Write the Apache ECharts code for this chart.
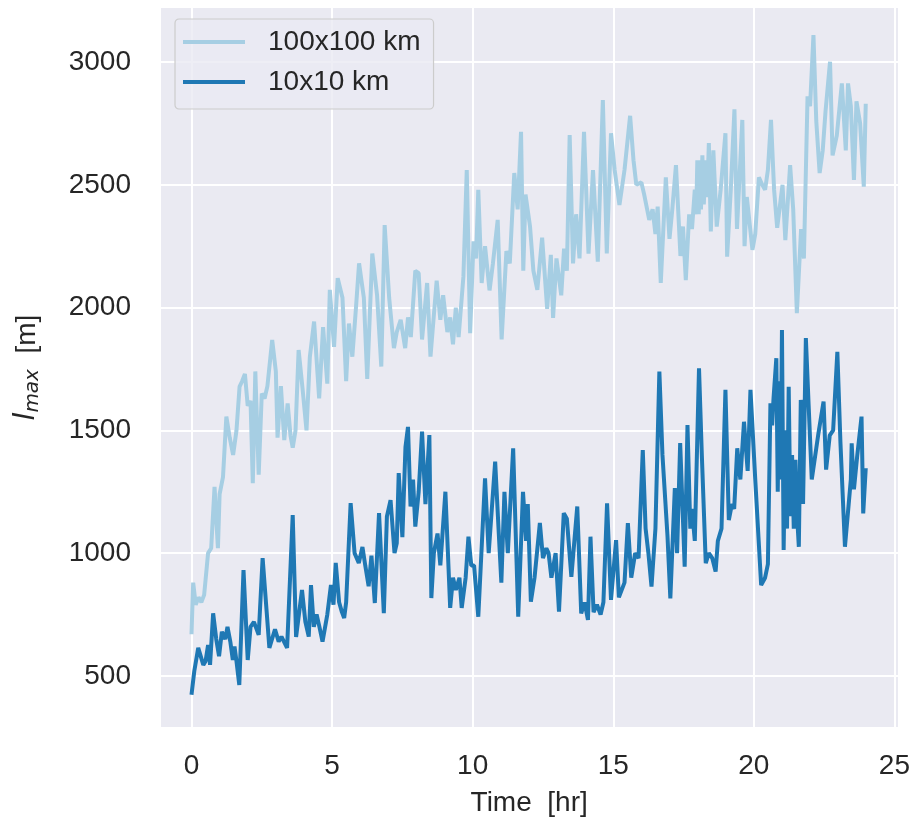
<!DOCTYPE html>
<html>
<head>
<meta charset="utf-8">
<script src="https://cdn.jsdelivr.net/npm/echarts@6/dist/echarts.min.js"></script>
<style>
  html, body { margin: 0; padding: 0; background: #ffffff; }
  #chart { width: 913px; height: 822px; }
</style>
</head>
<body>
<div id="chart"></div>
<script>
// Maximum length scale over a 24 h run, two domain sizes.
const seriesNames = ['100x100 km', '10x10 km'];

// 100x100 km domain: time [hr] and l_max [m]
const largeTime = [
  0.00, 0.06, 0.15, 0.25, 0.35, 0.45, 0.59, 0.70,
  0.82, 0.94, 1.00, 1.12, 1.24, 1.36, 1.48, 1.60,
  1.71, 1.80, 1.90, 2.00, 2.10, 2.18, 2.27, 2.39,
  2.50, 2.60, 2.70, 2.87, 3.00, 3.06, 3.18, 3.30,
  3.42, 3.52, 3.60, 3.70, 3.81, 3.95, 4.09, 4.21,
  4.36, 4.54, 4.68, 4.83, 4.92, 5.07, 5.20, 5.37,
  5.50, 5.60, 5.72, 5.85, 5.96, 6.13, 6.25, 6.43,
  6.60, 6.75, 6.87, 7.03, 7.20, 7.30, 7.44, 7.60,
  7.70, 7.80, 7.96, 8.08, 8.20, 8.38, 8.50, 8.72,
  8.85, 8.95, 9.10, 9.20, 9.30, 9.40, 9.50, 9.67,
  9.79, 9.91, 10.03, 10.12, 10.20, 10.32, 10.44, 10.60,
  10.72, 10.89, 11.03, 11.20, 11.32, 11.48, 11.60, 11.72,
  11.80, 11.88, 12.04, 12.16, 12.30, 12.47, 12.65, 12.78,
  12.86, 12.98, 13.15, 13.25, 13.35, 13.45, 13.57, 13.68,
  13.80, 13.96, 14.12, 14.28, 14.45, 14.63, 14.77, 14.92,
  15.05, 15.22, 15.40, 15.60, 15.72, 15.82, 16.00, 16.10,
  16.28, 16.40, 16.50, 16.58, 16.69, 16.87, 17.00, 17.10,
  17.23, 17.39, 17.48, 17.58, 17.70, 17.80, 17.90, 17.95,
  17.99, 18.04, 18.08, 18.12, 18.17, 18.22, 18.28, 18.34,
  18.40, 18.47, 18.56, 18.68, 18.82, 18.99, 19.05, 19.18,
  19.31, 19.40, 19.59, 19.67, 19.75, 19.95, 20.05, 20.18,
  20.30, 20.40, 20.50, 20.61, 20.72, 20.83, 21.02, 21.12,
  21.29, 21.40, 21.53, 21.68, 21.78, 21.91, 22.00, 22.12,
  22.22, 22.34, 22.45, 22.55, 22.71, 22.80, 22.95, 23.13,
  23.27, 23.35, 23.45, 23.56, 23.65, 23.78, 23.91, 23.98
];
const largeValue = [
  670, 880, 790, 820, 800, 830, 1000, 1020,
  1270, 1020, 1240, 1310, 1556, 1470, 1400, 1500,
  1678, 1700, 1730, 1600, 1620, 1285, 1740, 1320,
  1650, 1630, 1680, 1868, 1740, 1470, 1680, 1460,
  1610, 1480, 1430, 1500, 1827, 1670, 1500, 1800,
  1943, 1630, 1920, 1690, 2072, 1840, 2120, 2040,
  1700, 1935, 1800, 2000, 2180, 2040, 1710, 2220,
  2050, 1760, 2336, 2040, 1835, 1900, 1950, 1835,
  1960, 1880, 2150, 2140, 1870, 2100, 1800, 2110,
  1950, 2050, 1900, 1960, 1850, 2000, 1880, 2125,
  2560, 1896, 2270, 2200, 2480, 2100, 2250, 2070,
  2180, 2357, 1870, 2230, 2180, 2548, 2400, 2716,
  2150, 2460, 2330, 2150, 2072, 2285, 1995, 2215,
  1958, 2200, 2050, 2240, 2150, 2703, 2180, 2380,
  2200, 2716, 2220, 2560, 2187, 2845, 2220, 2710,
  2560, 2418, 2560, 2781, 2600, 2500, 2510, 2460,
  2357, 2400, 2300, 2411, 2100, 2530, 2280, 2400,
  2580, 2210, 2330, 2112, 2380, 2320, 2480, 2380,
  2600, 2380, 2600, 2400, 2620, 2420, 2600, 2450,
  2670, 2310, 2640, 2330, 2480, 2710, 2207, 2480,
  2807, 2320, 2764, 2250, 2450, 2235, 2300, 2530,
  2500, 2480, 2560, 2764, 2480, 2325, 2500, 2275,
  2580, 2400, 1977, 2320, 2200, 2860, 2820, 3110,
  2760, 2548, 2640, 2800, 3001, 2620, 2700, 2913,
  2640, 2913, 2820, 2520, 2840, 2750, 2492, 2830
];

// 10x10 km domain: time [hr] and l_max [m]
const smallTime = [
  0.00, 0.10, 0.24, 0.42, 0.50, 0.59, 0.66, 0.77,
  0.88, 0.98, 1.08, 1.20, 1.28, 1.38, 1.47, 1.53,
  1.60, 1.70, 1.85, 2.00, 2.10, 2.22, 2.39, 2.53,
  2.77, 2.97, 3.10, 3.20, 3.40, 3.60, 3.72, 3.93,
  4.05, 4.17, 4.25, 4.35, 4.45, 4.55, 4.66, 4.83,
  4.96, 5.05, 5.13, 5.25, 5.35, 5.43, 5.50, 5.66,
  5.80, 5.95, 6.08, 6.18, 6.30, 6.40, 6.52, 6.67,
  6.84, 6.95, 7.08, 7.22, 7.30, 7.37, 7.50, 7.61,
  7.70, 7.79, 7.88, 7.96, 8.08, 8.20, 8.32, 8.46,
  8.53, 8.62, 8.75, 8.85, 9.03, 9.20, 9.30, 9.40,
  9.53, 9.61, 9.75, 9.85, 9.95, 10.05, 10.20, 10.44,
  10.57, 10.80, 10.92, 11.02, 11.13, 11.25, 11.44, 11.62,
  11.79, 11.90, 11.96, 12.07, 12.20, 12.39, 12.50, 12.62,
  12.70, 12.80, 12.95, 13.07, 13.24, 13.35, 13.51, 13.72,
  13.86, 13.98, 14.10, 14.19, 14.30, 14.42, 14.55, 14.65,
  14.78, 14.92, 15.10, 15.20, 15.40, 15.52, 15.64, 15.78,
  15.90, 16.05, 16.15, 16.25, 16.36, 16.50, 16.64, 16.75,
  16.93, 17.03, 17.19, 17.27, 17.38, 17.54, 17.64, 17.74,
  17.80, 17.90, 18.05, 18.15, 18.29, 18.40, 18.52, 18.64,
  18.72, 18.85, 18.99, 19.11, 19.22, 19.30, 19.41, 19.52,
  19.65, 19.78, 19.88, 20.05, 20.26, 20.40, 20.50, 20.59,
  20.65, 20.70, 20.80, 20.85, 20.90, 20.95, 21.00, 21.06,
  21.12, 21.18, 21.24, 21.30, 21.36, 21.42, 21.48, 21.54,
  21.60, 21.67, 21.75, 21.85, 21.95, 22.06, 22.30, 22.48,
  22.57, 22.70, 22.82, 22.97, 23.08, 23.24, 23.45, 23.48,
  23.56, 23.68, 23.83, 23.89, 23.98
];
const smallValue = [
  423, 520, 614, 545, 560, 626, 545, 755,
  650, 580, 680, 650, 700, 640, 565, 620,
  560, 463, 931, 565, 700, 720, 667, 980,
  614, 690, 640, 660, 614, 1155, 659, 850,
  720, 660, 870, 700, 750, 700, 640, 750,
  870, 790, 960, 800, 760, 736, 800, 1204,
  1000, 960, 1025, 950, 865, 990, 797, 1163,
  756, 1150, 1216, 1000, 1040, 1326, 1065, 1432,
  1514, 1190, 1300, 1108, 1250, 1495, 1200, 1481,
  817, 1000, 1080, 950, 1250, 777, 900, 850,
  900, 777, 900, 1067, 950, 950, 741, 1305,
  1000, 1373, 1100, 880, 1250, 1000, 1427, 741,
  1250, 1050, 1200, 802, 900, 1123, 980, 1020,
  1000, 900, 1000, 762, 1163, 1140, 904, 1190,
  755, 800, 728, 1067, 760, 790, 750, 800,
  1203, 810, 1053, 820, 880, 1122, 900, 1000,
  980, 1420, 1100, 1000, 864, 1100, 1739, 1400,
  1067, 816, 1265, 1000, 1448, 945, 1522, 1100,
  1180, 1050, 1753, 1400, 959, 1000, 980, 925,
  1050, 1100, 1665, 1135, 1200, 1180, 1427, 1300,
  1535, 1335, 1665, 1300, 870, 900, 955, 1610,
  1520, 1630, 1794, 1250, 1700, 1300, 1909, 1013,
  1500, 1100, 1678, 1150, 1400, 1100, 1380, 1150,
  1026, 1624, 1200, 1876, 1600, 1300, 1490, 1617,
  1340, 1480, 1500, 1820, 1450, 1026, 1300, 1447,
  1260, 1400, 1556, 1162, 1346
];

const pairs = (xs, ys) => xs.map((x, i) => [x, ys[i]]);

const textColor = '#262626';
const fontFamily = '"Liberation Sans", Arial, sans-serif';
const mathFont = '"DejaVu Sans", sans-serif';
const colors = ['#a6cee3', '#1f78b4'];

const chart = echarts.init(document.getElementById('chart'), null, { renderer: 'canvas' });

chart.setOption({
  animation: false,
  backgroundColor: '#ffffff',
  textStyle: { fontFamily: fontFamily, color: textColor },
  grid: {
    left: 160, right: 11, top: 7, bottom: 94,
    show: true, backgroundColor: '#eaeaf2', borderWidth: 0
  },
  legend: {
    left: 175, top: 19,
    orient: 'vertical',
    padding: [8, 13, 12, 8],
    itemGap: 10,
    itemWidth: 62,
    itemHeight: 4,
    backgroundColor: 'rgba(234,234,242,0.8)',
    borderColor: '#cccccc',
    borderWidth: 1.2,
    borderRadius: 4,
    textStyle: {
      fontSize: 28, color: textColor, fontFamily: fontFamily,
      lineHeight: 30, padding: [0, 0, 0, 18]
    },
    data: seriesNames.map(n => ({ name: n, icon: 'rect' }))
  },
  xAxis: {
    type: 'value',
    min: -1.12, max: 25.14,
    splitNumber: 5,
    name: 'Time  [hr]',
    nameLocation: 'middle',
    nameGap: 61,
    nameTextStyle: { fontSize: 28, color: textColor, fontFamily: fontFamily },
    axisLine: { show: false },
    axisTick: { show: false },
    axisLabel: {
      fontSize: 28, color: textColor, margin: 24,
      showMinLabel: false, showMaxLabel: false,
      formatter: v => String(v)
    },
    splitLine: { show: true, lineStyle: { color: '#ffffff', width: 2 } }
  },
  yAxis: {
    type: 'value',
    min: 288, max: 3224,
    splitNumber: 5,
    name: '{i|l}{s|max}{n|  [m]}',
    nameLocation: 'middle',
    nameRotate: 90,
    nameGap: 117,
    nameTextStyle: {
      fontSize: 28, color: textColor, fontFamily: fontFamily,
      rich: {
        i: { fontSize: 28, fontStyle: 'italic', color: textColor, fontFamily: mathFont },
        s: { fontSize: 20, fontStyle: 'italic', color: textColor, fontFamily: mathFont, padding: [12, 0, 0, 0] },
        n: { fontSize: 28, color: textColor, fontFamily: fontFamily }
      }
    },
    axisLine: { show: false },
    axisTick: { show: false },
    axisLabel: {
      fontSize: 28, color: textColor, margin: 29,
      showMinLabel: false, showMaxLabel: false,
      formatter: v => String(v)
    },
    splitLine: { show: true, lineStyle: { color: '#ffffff', width: 2 } }
  },
  series: [
    {
      name: seriesNames[0],
      type: 'line',
      data: pairs(largeTime, largeValue),
      showSymbol: false,
      symbol: 'none',
      lineStyle: { color: colors[0], width: 4 },
      itemStyle: { color: colors[0] }
    },
    {
      name: seriesNames[1],
      type: 'line',
      data: pairs(smallTime, smallValue),
      showSymbol: false,
      symbol: 'none',
      lineStyle: { color: colors[1], width: 4 },
      itemStyle: { color: colors[1] }
    }
  ]
});
</script>
</body>
</html>
